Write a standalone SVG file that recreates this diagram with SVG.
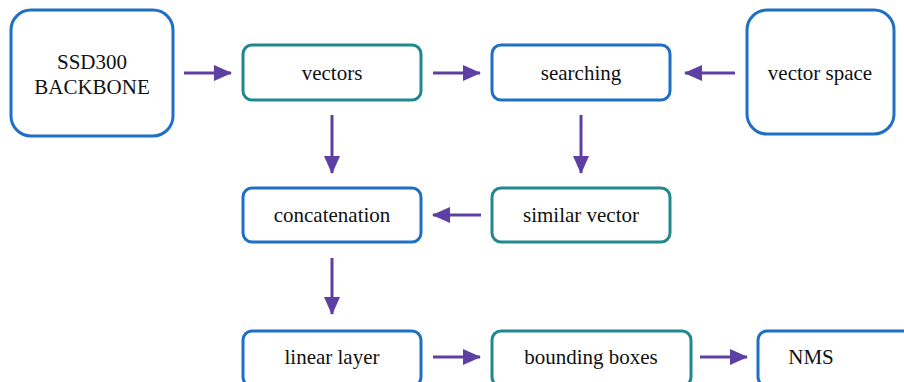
<svg xmlns="http://www.w3.org/2000/svg" width="904" height="382" viewBox="0 0 904 382">
<style>
.blue{fill:#fff;stroke:#1f6fc5;stroke-width:3}
.teal{fill:#fff;stroke:#21898d;stroke-width:3}
.lbl{font-family:'Liberation Serif','Times New Roman','DejaVu Serif',serif;font-size:21px;fill:#111;text-anchor:middle;dominant-baseline:central}
.conn{stroke:#5e3fa3;stroke-width:3;fill:none}
</style>
<defs>
<marker id="ah" markerUnits="userSpaceOnUse" markerWidth="18" markerHeight="16" refX="17" refY="8" orient="auto">
<path d="M0,0 L18,8 L0,16 Z" fill="#5e3fa3"/>
</marker>
</defs>
<rect width="904" height="382" fill="#fff"/>
<g id="connectors">
<line class="conn" x1="184" y1="73" x2="231" y2="73" marker-end="url(#ah)"/>
<line class="conn" x1="433" y1="73" x2="480" y2="73" marker-end="url(#ah)"/>
<line class="conn" x1="735" y1="73" x2="685" y2="73" marker-end="url(#ah)"/>
<line class="conn" x1="332" y1="115" x2="332" y2="173" marker-end="url(#ah)"/>
<line class="conn" x1="581" y1="115" x2="581" y2="173" marker-end="url(#ah)"/>
<line class="conn" x1="481" y1="215" x2="433" y2="215" marker-end="url(#ah)"/>
<line class="conn" x1="332" y1="258" x2="332" y2="314" marker-end="url(#ah)"/>
<line class="conn" x1="433" y1="357" x2="480" y2="357" marker-end="url(#ah)"/>
<line class="conn" x1="700" y1="357" x2="747" y2="357" marker-end="url(#ah)"/>
</g>
<g id="ssd300">
<rect class="blue" x="11" y="10" width="162" height="126" rx="20"/>
<text class="lbl" x="92" y="62">SSD300</text>
<text class="lbl" x="92" y="87">BACKBONE</text>
</g>
<g id="vectors">
<rect class="teal" x="243" y="45" width="178" height="55" rx="9"/>
<text class="lbl" x="332" y="73">vectors</text>
</g>
<g id="searching">
<rect class="blue" x="492" y="45" width="178" height="55" rx="9"/>
<text class="lbl" x="581" y="73">searching</text>
</g>
<g id="vector-space">
<rect class="blue" x="747" y="10" width="147" height="124" rx="20"/>
<text class="lbl" x="820" y="73">vector space</text>
</g>
<g id="concatenation">
<rect class="blue" x="243" y="188" width="178" height="54" rx="9"/>
<text class="lbl" x="332" y="215">concatenation</text>
</g>
<g id="similar-vector">
<rect class="teal" x="492" y="188" width="178" height="54" rx="9"/>
<text class="lbl" x="581" y="215">similar vector</text>
</g>
<g id="linear-layer">
<rect class="blue" x="243" y="331" width="178" height="55" rx="9"/>
<text class="lbl" x="332" y="357">linear layer</text>
</g>
<g id="bounding-boxes">
<rect class="teal" x="492" y="331" width="199" height="55" rx="9"/>
<text class="lbl" x="591" y="357">bounding boxes</text>
</g>
<g id="nms">
<rect class="blue" x="758" y="331" width="170" height="55" rx="9"/>
<text class="lbl" x="811" y="357">NMS</text>
</g>
</svg>
